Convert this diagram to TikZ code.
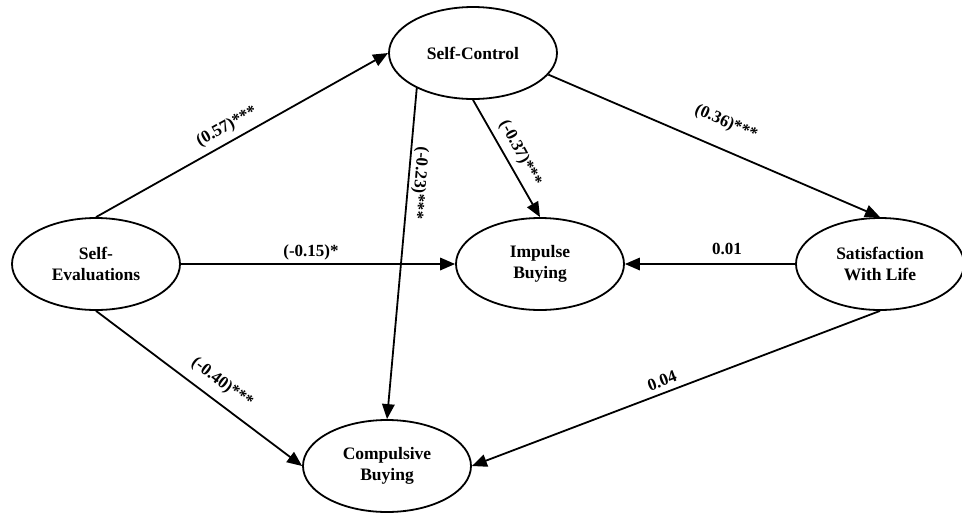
\documentclass[tikz,border=0pt]{standalone}
\usepackage{fontspec}
\setmainfont{Liberation Serif}
\usetikzlibrary{arrows.meta,shapes.geometric}
\begin{document}
\begin{tikzpicture}[x=1pt,y=-1pt,
  latent/.style={ellipse,draw,line width=1.8pt,minimum width=168pt,minimum height=92pt,inner sep=0pt,align=center,font=\fontsize{17.5}{21}\selectfont\bfseries},
  path/.style={line width=1.8pt,-{Triangle[length=15pt,width=12.5pt]}},
  lbl/.style={font=\fontsize{17}{20}\selectfont\bfseries,inner sep=0pt}]
\useasboundingbox (0,0) rectangle (962,512);
\node[latent] (sc) at (473,53) {Self-Control};
\node[latent] (se) at (96,264) {Self-\\Evaluations};
\node[latent] (ib) at (540,264) {Impulse\\Buying};
\node[latent] (swl) at (880,264) {Satisfaction\\With Life};
\node[latent] (cb) at (387,466) {Compulsive\\Buying};
\draw[path] (se.north) -- (sc.west);
\draw[path] (sc.212) -- (cb.north);
\draw[path] (sc.south) -- (ib.north);
\draw[path] (sc.-16) -- (swl.north);
\draw[path] (se.east) -- (ib.west);
\draw[path] (swl.west) -- (ib.east);
\draw[path] (se.south) -- (cb.west);
\draw[path] (swl.south) -- (cb.east);
\node[lbl,rotate=29] (l1) at (227,127) {(0.57)***};
\node[lbl,rotate=-24] (l2) at (726,123) {(0.36)***};
\node[lbl,rotate=-62] (l3) at (520,153) {(-0.37)***};
\node[lbl,rotate=-94.6] (l4) at (419,183) {(-0.23)***};
\node[lbl] (l5) at (311,252) {(-0.15)*};
\node[lbl] (l6) at (727,249) {0.01};
\node[lbl,rotate=-37] (l7) at (222,383) {(-0.40)***};
\node[lbl,rotate=20.5] (l8) at (662,381) {0.04};
\end{tikzpicture}
\end{document}
